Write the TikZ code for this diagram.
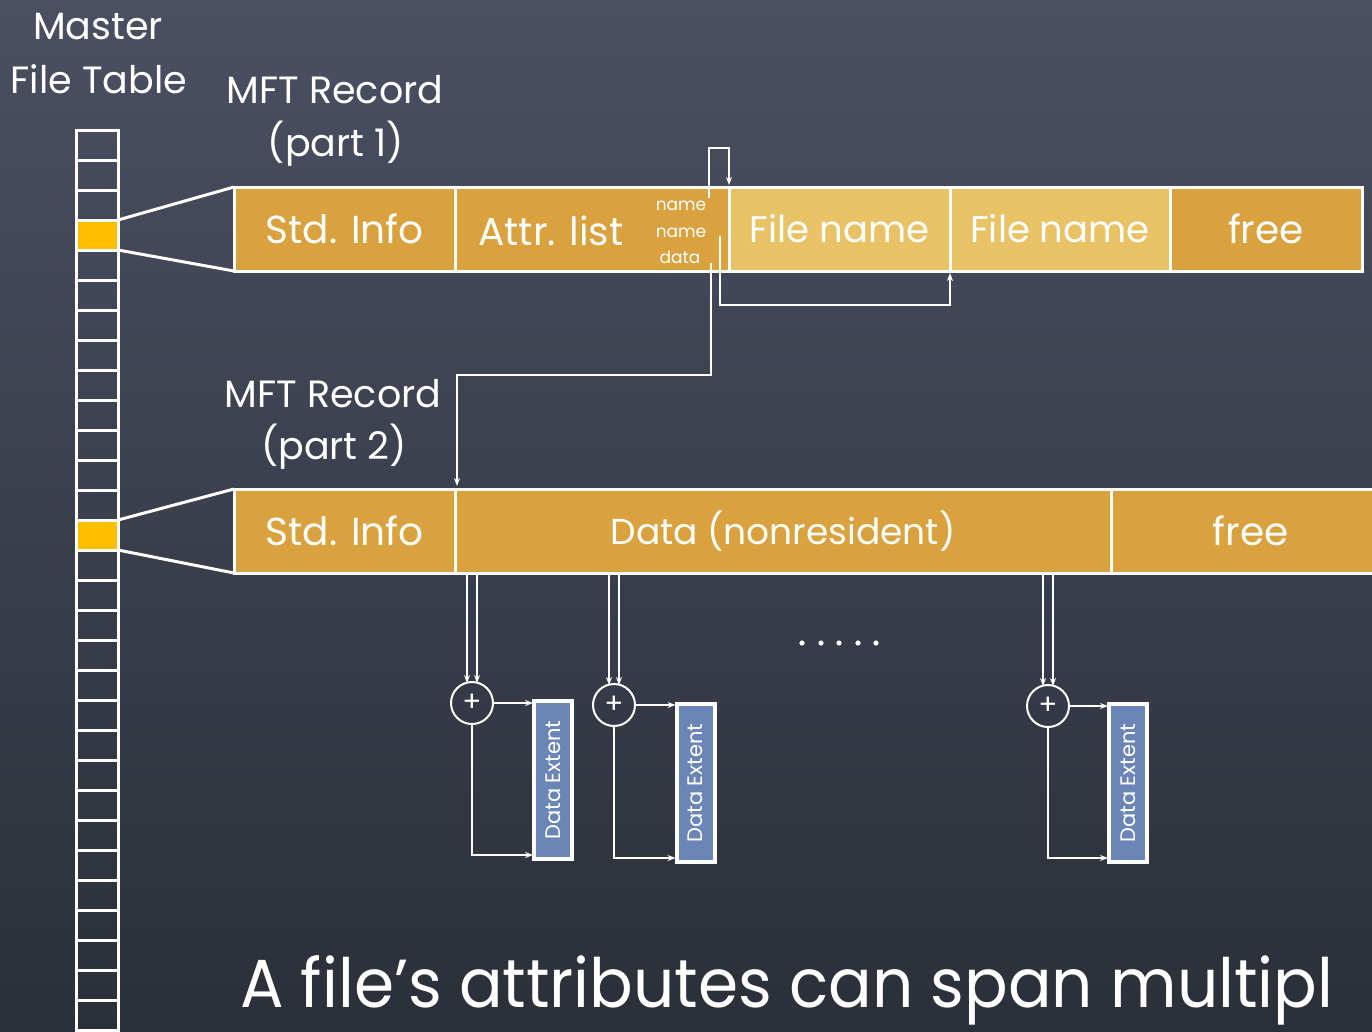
\documentclass[tikz,border=0pt]{standalone}
\usepackage{fontspec}
\setmainfont{Poppins}
\usetikzlibrary{arrows.meta,calc}

\definecolor{boardtop}{HTML}{4A5062}
\definecolor{boardbot}{HTML}{2B2F38}
\definecolor{gold}{HTML}{D9A23F}
\definecolor{lightgold}{HTML}{E9C265}
\definecolor{mftyellow}{HTML}{FFBF00}
\definecolor{extentblue}{HTML}{6B86B6}

\tikzset{
  chalk/.style={text=white, inner sep=0pt},
  mftcell/.style={draw=white, line width=3pt, minimum width=42pt, minimum height=30pt,
    inner sep=0pt, outer sep=0pt},
  cell/.style={draw=white, line width=3pt, minimum height=84pt, inner sep=0pt,
    outer sep=0pt, text=white, font=\fontsize{39}{46}\selectfont},
  funnel/.style={draw=white, line width=3pt},
  conn/.style={draw=white, line width=1.4pt, -{Stealth[length=8pt,width=6pt]}},
  sumnode/.style={circle, draw=white, line width=2pt, minimum size=42pt, inner sep=0pt,
    outer sep=0pt, text=white, font=\fontsize{28}{30}\selectfont},
  extent/.style={draw=white, line width=4pt, fill=extentblue, minimum width=38pt,
    minimum height=158pt, inner sep=0pt, outer sep=0pt, text=white,
    font=\fontsize{21}{24}\selectfont},
  heading/.style={chalk, font=\fontsize{38}{44}\selectfont},
  tiny/.style={chalk, font=\fontsize{17}{20}\selectfont},
}

\begin{document}
\begin{tikzpicture}[x=1pt,y=-1pt]
  % chalkboard
  \shade[top color=boardtop, bottom color=boardbot] (0,0) rectangle (1372,1031);
  \useasboundingbox (0,0) rectangle (1372,1031);
  \clip (0,0) rectangle (1372,1031);

  % master file table column
  \foreach \i in {0,...,29}{
    \ifnum\i=3 \def\cf{mftyellow}\else\ifnum\i=13 \def\cf{mftyellow}\else\def\cf{none}\fi\fi
    \node[mftcell, fill=\cf] (m\i) at (97,145+30*\i) {};
  }
  \node[heading] (mtitle1) at (98,27) {Master};
  \node[heading] (mtitle2) at (99,79) {File Table};

  % MFT record, part 1
  \node[heading] (r1title1) at (335,90) {MFT Record};
  \node[heading] (r1title2) at (336,144) {(part 1)};
  \node[cell, fill=gold, minimum width=221pt] (si1) at (344.5,229) {Std. Info};
  \node[cell, fill=gold, minimum width=274pt] (al1) at (592,229) {};
  \node[cell, fill=lightgold, minimum width=221pt, font=\fontsize{37}{44}\selectfont] (fn1) at (839.5,229) {File name};
  \node[cell, fill=lightgold, minimum width=220pt, font=\fontsize{37}{44}\selectfont] (fn2) at (1060,229) {File name};
  \node[cell, fill=gold, minimum width=192pt] (fr1) at (1266,229) {free};
  \node[chalk, font=\fontsize{39}{46}\selectfont] (altext) at (551,231) {Attr. list};
  \node[tiny] (an1) at (681,206) {name};
  \node[tiny] (an2) at (681,233) {name};
  \node[tiny] (ad) at (680,257) {data};

  % MFT record, part 2
  \node[heading] (r2title1) at (333,394) {MFT Record};
  \node[heading] (r2title2) at (334,447) {(part 2)};
  \node[cell, fill=gold, minimum width=221pt] (si2) at (344.5,531) {Std. Info};
  \node[cell, fill=gold, minimum width=656pt, font=\fontsize{36}{44}\selectfont] (dat2) at (783,531) {Data (nonresident)};
  \node[cell, fill=gold, minimum width=279pt] (fr2) at (1250.5,531) {free};

  % funnels from the table entries to the records
  \draw[funnel] (m3.north east) -- (si1.north west);
  \draw[funnel] (m3.south east) -- (si1.south west);
  \draw[funnel] (m13.north east) -- (si2.north west);
  \draw[funnel] (m13.south east) -- (si2.south west);

  % attribute list pointers
  \coordinate (p1) at (709,198);
  \coordinate (p2) at (720,236);
  \coordinate (p3) at (711,263);
  \draw[conn, shorten >=2pt] (p1) -- (709,148) -| (fn1.north west);
  \draw[conn, shorten >=2pt] (p2) -- (720,305) -| (fn2.south west);
  \draw[conn, shorten >=3pt] (p3) -- (711,375) -| ([xshift=2pt]dat2.north west);

  % data runs
  \node[sumnode] (c1) at (472,703) {+};
  \node[sumnode] (c2) at (614,705) {+};
  \node[sumnode] (c3) at (1048,706) {+};
  \node[extent] (e1) at (553,780) {\rotatebox{90}{Data Extent}};
  \node[extent] (e2) at (695.5,783) {\rotatebox{90}{Data Extent}};
  \node[extent] (e3) at (1128,783) {\rotatebox{90}{Data Extent}};

  \foreach \c/\e in {c1/e1, c2/e2, c3/e3}{
    \draw[conn] ([xshift=-5pt]\c.north |- dat2.south) -- ([xshift=-5pt,yshift=-1pt]\c.north);
    \draw[conn] ([xshift=5pt]\c.north |- dat2.south) -- ([xshift=5pt,yshift=-1pt]\c.north);
    \draw[conn, shorten >=1pt] (\c.east) -- (\c.east -| \e.west);
    \draw[conn, shorten >=1pt] (\c.south) |- ($(\e.south west)+(0,-4)$);
  }

  % more runs follow
  \foreach \x in {802,821,839,858,876}
    \fill[white] (\x,643) circle (2.6pt);

  % caption
  \node[chalk, anchor=base west, font=\fontsize{68}{76}\selectfont] (caption) at (240,1007)
    {\scalebox{0.95}[1]{A file’s attributes can span multipl}};
\end{tikzpicture}
\end{document}
